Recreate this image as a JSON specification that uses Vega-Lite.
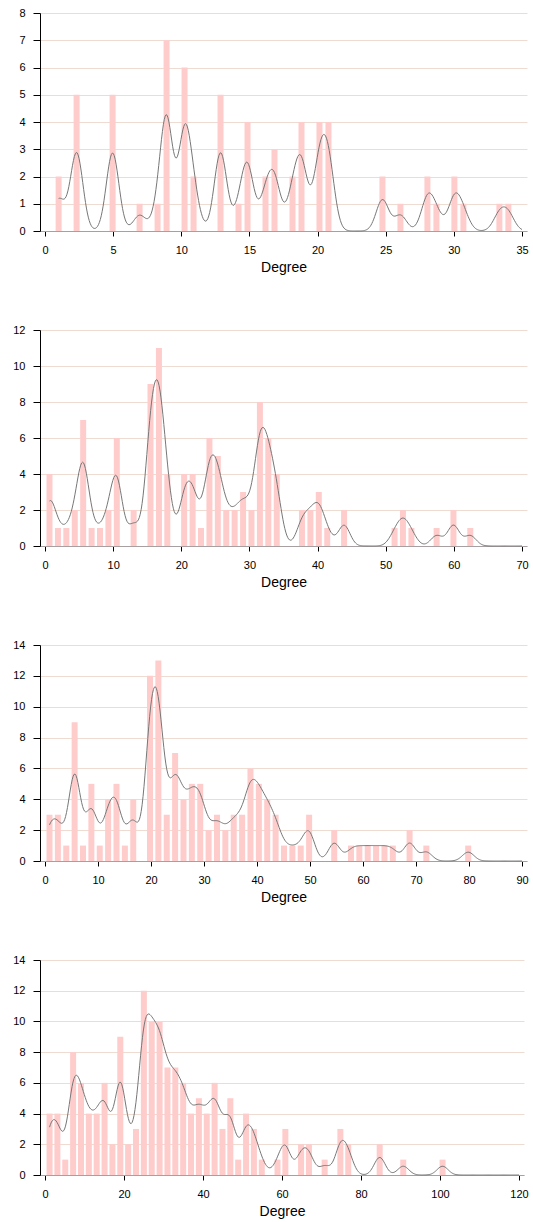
{
  "$schema": "https://vega.github.io/schema/vega-lite/v6.json",
  "background": "white",
  "padding": {"left": 12, "top": 7, "right": 0, "bottom": 5},
  "columns": 1,
  "align": "none",
  "spacing": 50,
  "config": {
    "font": "Liberation Sans",
    "view": {"stroke": null},
    "axis": {
      "labelFont": "Liberation Sans", "labelFontSize": 11, "labelColor": "#000",
      "titleFont": "Liberation Sans", "titleFontSize": 14, "titleFontWeight": "normal", "titleColor": "#000",
      "tickColor": "#000", "domainColor": "#000"
    },
    "axisX": {"grid": false, "domainColor": "#a8a0a0", "tickSize": 5, "labelPadding": 8, "titlePadding": 5, "labelFlush": false},
    "axisY": {"gridColor": "#eedcd2", "tickSize": 7, "labelPadding": 8, "domainColor": "#000", "minExtent": 0}
  },
  "datasets": {
    "d1": [
      {"degree":1},{"degree":1},
      {"degree":2.32},{"degree":2.32},{"degree":2.32},{"degree":2.32},{"degree":2.32},
      {"degree":4.96},{"degree":4.96},{"degree":4.96},{"degree":4.96},{"degree":4.96},
      {"degree":6.94},
      {"degree":8.26},
      {"degree":8.92},{"degree":8.92},{"degree":8.92},{"degree":8.92},{"degree":8.92},{"degree":8.92},{"degree":8.92},
      {"degree":10.24},{"degree":10.24},{"degree":10.24},{"degree":10.24},{"degree":10.24},{"degree":10.24},
      {"degree":10.9},{"degree":10.9},
      {"degree":12.88},{"degree":12.88},{"degree":12.88},{"degree":12.88},{"degree":12.88},
      {"degree":14.2},
      {"degree":14.86},{"degree":14.86},{"degree":14.86},{"degree":14.86},
      {"degree":16.18},{"degree":16.18},
      {"degree":16.84},{"degree":16.84},{"degree":16.84},
      {"degree":18.16},{"degree":18.16},
      {"degree":18.82},{"degree":18.82},{"degree":18.82},{"degree":18.82},
      {"degree":20.14},{"degree":20.14},{"degree":20.14},{"degree":20.14},
      {"degree":20.8},{"degree":20.8},{"degree":20.8},{"degree":20.8},
      {"degree":24.76},{"degree":24.76},
      {"degree":26.08},
      {"degree":28.06},{"degree":28.06},
      {"degree":28.72},
      {"degree":30.04},{"degree":30.04},
      {"degree":30.7},
      {"degree":33.34},
      {"degree":34}
    ],
    "d2": [
      {"degree":0.66},{"degree":0.66},{"degree":0.66},{"degree":0.66},
      {"degree":1.9},
      {"degree":3.13},
      {"degree":4.37},{"degree":4.37},
      {"degree":5.6},{"degree":5.6},{"degree":5.6},{"degree":5.6},{"degree":5.6},{"degree":5.6},{"degree":5.6},
      {"degree":6.84},
      {"degree":8.07},
      {"degree":9.31},{"degree":9.31},
      {"degree":10.54},{"degree":10.54},{"degree":10.54},{"degree":10.54},{"degree":10.54},{"degree":10.54},
      {"degree":13.01},{"degree":13.01},
      {"degree":15.48},{"degree":15.48},{"degree":15.48},{"degree":15.48},{"degree":15.48},{"degree":15.48},{"degree":15.48},{"degree":15.48},{"degree":15.48},
      {"degree":16.72},{"degree":16.72},{"degree":16.72},{"degree":16.72},{"degree":16.72},{"degree":16.72},{"degree":16.72},{"degree":16.72},{"degree":16.72},{"degree":16.72},{"degree":16.72},
      {"degree":17.95},{"degree":17.95},{"degree":17.95},{"degree":17.95},
      {"degree":20.42},{"degree":20.42},{"degree":20.42},{"degree":20.42},
      {"degree":21.66},{"degree":21.66},{"degree":21.66},{"degree":21.66},
      {"degree":22.89},
      {"degree":24.13},{"degree":24.13},{"degree":24.13},{"degree":24.13},{"degree":24.13},{"degree":24.13},
      {"degree":25.36},{"degree":25.36},{"degree":25.36},{"degree":25.36},{"degree":25.36},
      {"degree":26.6},{"degree":26.6},
      {"degree":27.83},{"degree":27.83},
      {"degree":29.07},{"degree":29.07},{"degree":29.07},
      {"degree":30.3},{"degree":30.3},
      {"degree":31.54},{"degree":31.54},{"degree":31.54},{"degree":31.54},{"degree":31.54},{"degree":31.54},{"degree":31.54},{"degree":31.54},
      {"degree":32.77},{"degree":32.77},{"degree":32.77},{"degree":32.77},{"degree":32.77},{"degree":32.77},
      {"degree":34.01},{"degree":34.01},{"degree":34.01},{"degree":34.01},
      {"degree":37.71},{"degree":37.71},
      {"degree":38.95},{"degree":38.95},
      {"degree":40.18},{"degree":40.18},{"degree":40.18},
      {"degree":41.42},
      {"degree":43.89},{"degree":43.89},
      {"degree":51.3},
      {"degree":52.53},{"degree":52.53},
      {"degree":53.77},
      {"degree":57.47},
      {"degree":59.94},{"degree":59.94},
      {"degree":62.41}
    ],
    "d3": [
      {"degree":0.85},{"degree":0.85},{"degree":0.85},
      {"degree":2.43},{"degree":2.43},{"degree":2.43},
      {"degree":4.01},
      {"degree":5.59},{"degree":5.59},{"degree":5.59},{"degree":5.59},{"degree":5.59},{"degree":5.59},{"degree":5.59},{"degree":5.59},{"degree":5.59},
      {"degree":7.17},
      {"degree":8.75},{"degree":8.75},{"degree":8.75},{"degree":8.75},{"degree":8.75},
      {"degree":10.33},
      {"degree":11.91},{"degree":11.91},{"degree":11.91},{"degree":11.91},
      {"degree":13.49},{"degree":13.49},{"degree":13.49},{"degree":13.49},{"degree":13.49},
      {"degree":15.07},
      {"degree":16.65},{"degree":16.65},{"degree":16.65},{"degree":16.65},
      {"degree":19.81},{"degree":19.81},{"degree":19.81},{"degree":19.81},{"degree":19.81},{"degree":19.81},{"degree":19.81},{"degree":19.81},{"degree":19.81},{"degree":19.81},{"degree":19.81},{"degree":19.81},
      {"degree":21.39},{"degree":21.39},{"degree":21.39},{"degree":21.39},{"degree":21.39},{"degree":21.39},{"degree":21.39},{"degree":21.39},{"degree":21.39},{"degree":21.39},{"degree":21.39},{"degree":21.39},{"degree":21.39},
      {"degree":22.97},{"degree":22.97},{"degree":22.97},
      {"degree":24.55},{"degree":24.55},{"degree":24.55},{"degree":24.55},{"degree":24.55},{"degree":24.55},{"degree":24.55},
      {"degree":26.13},{"degree":26.13},{"degree":26.13},{"degree":26.13},
      {"degree":27.71},{"degree":27.71},{"degree":27.71},{"degree":27.71},{"degree":27.71},
      {"degree":29.29},{"degree":29.29},{"degree":29.29},{"degree":29.29},{"degree":29.29},
      {"degree":30.87},{"degree":30.87},
      {"degree":32.45},{"degree":32.45},{"degree":32.45},
      {"degree":34.03},{"degree":34.03},
      {"degree":35.61},{"degree":35.61},{"degree":35.61},
      {"degree":37.19},{"degree":37.19},{"degree":37.19},
      {"degree":38.77},{"degree":38.77},{"degree":38.77},{"degree":38.77},{"degree":38.77},{"degree":38.77},
      {"degree":40.35},{"degree":40.35},{"degree":40.35},{"degree":40.35},{"degree":40.35},
      {"degree":41.93},{"degree":41.93},{"degree":41.93},{"degree":41.93},
      {"degree":43.51},{"degree":43.51},{"degree":43.51},
      {"degree":45.09},
      {"degree":46.67},
      {"degree":48.25},
      {"degree":49.83},{"degree":49.83},{"degree":49.83},
      {"degree":54.57},{"degree":54.57},
      {"degree":57.73},
      {"degree":59.31},
      {"degree":60.89},
      {"degree":62.47},
      {"degree":64.05},
      {"degree":65.63},
      {"degree":68.79},{"degree":68.79},
      {"degree":71.95},
      {"degree":79.85}
    ],
    "d4": [
      {"degree":1.15},{"degree":1.15},{"degree":1.15},{"degree":1.15},
      {"degree":3.14},{"degree":3.14},{"degree":3.14},{"degree":3.14},
      {"degree":5.13},
      {"degree":7.12},{"degree":7.12},{"degree":7.12},{"degree":7.12},{"degree":7.12},{"degree":7.12},{"degree":7.12},{"degree":7.12},
      {"degree":9.11},{"degree":9.11},{"degree":9.11},{"degree":9.11},{"degree":9.11},{"degree":9.11},
      {"degree":11.1},{"degree":11.1},{"degree":11.1},{"degree":11.1},
      {"degree":13.09},{"degree":13.09},{"degree":13.09},{"degree":13.09},
      {"degree":15.08},{"degree":15.08},{"degree":15.08},{"degree":15.08},{"degree":15.08},{"degree":15.08},
      {"degree":17.07},{"degree":17.07},
      {"degree":19.06},{"degree":19.06},{"degree":19.06},{"degree":19.06},{"degree":19.06},{"degree":19.06},{"degree":19.06},{"degree":19.06},{"degree":19.06},
      {"degree":21.05},{"degree":21.05},
      {"degree":23.04},{"degree":23.04},{"degree":23.04},
      {"degree":25.03},{"degree":25.03},{"degree":25.03},{"degree":25.03},{"degree":25.03},{"degree":25.03},{"degree":25.03},{"degree":25.03},{"degree":25.03},{"degree":25.03},{"degree":25.03},{"degree":25.03},
      {"degree":27.02},{"degree":27.02},{"degree":27.02},{"degree":27.02},{"degree":27.02},{"degree":27.02},{"degree":27.02},{"degree":27.02},{"degree":27.02},{"degree":27.02},
      {"degree":29.01},{"degree":29.01},{"degree":29.01},{"degree":29.01},{"degree":29.01},{"degree":29.01},{"degree":29.01},{"degree":29.01},{"degree":29.01},{"degree":29.01},
      {"degree":31},{"degree":31},{"degree":31},{"degree":31},{"degree":31},{"degree":31},{"degree":31},
      {"degree":32.99},{"degree":32.99},{"degree":32.99},{"degree":32.99},{"degree":32.99},{"degree":32.99},{"degree":32.99},
      {"degree":34.98},{"degree":34.98},{"degree":34.98},{"degree":34.98},{"degree":34.98},{"degree":34.98},
      {"degree":36.97},{"degree":36.97},{"degree":36.97},{"degree":36.97},
      {"degree":38.96},{"degree":38.96},{"degree":38.96},{"degree":38.96},{"degree":38.96},
      {"degree":40.95},{"degree":40.95},{"degree":40.95},{"degree":40.95},
      {"degree":42.94},{"degree":42.94},{"degree":42.94},{"degree":42.94},{"degree":42.94},{"degree":42.94},
      {"degree":44.93},{"degree":44.93},{"degree":44.93},
      {"degree":46.92},{"degree":46.92},{"degree":46.92},{"degree":46.92},{"degree":46.92},
      {"degree":48.91},
      {"degree":50.9},{"degree":50.9},{"degree":50.9},{"degree":50.9},
      {"degree":52.89},{"degree":52.89},{"degree":52.89},
      {"degree":54.88},
      {"degree":58.86},
      {"degree":60.85},{"degree":60.85},{"degree":60.85},
      {"degree":64.83},{"degree":64.83},
      {"degree":66.82},{"degree":66.82},
      {"degree":70.8},
      {"degree":74.78},{"degree":74.78},{"degree":74.78},
      {"degree":76.77},{"degree":76.77},
      {"degree":84.73},{"degree":84.73},
      {"degree":90.7},
      {"degree":100.65}
    ]
  },
  "concat": [
    {
      "width": 487, "height": 218,
      "data": {"name": "d1"},
      "layer": [
        {
          "mark": {"type": "bar", "color": "#ffcccc", "size": 6},
          "encoding": {
            "x": {"field": "degree", "type": "quantitative", "scale": {"domain": [0, 35], "nice": false}, "axis": {"title": "Degree", "values": [0,5,10,15,20,25,30,35]}},
            "y": {"aggregate": "count", "type": "quantitative", "scale": {"domain": [0, 8], "nice": false}, "axis": {"title": null, "values": [0,1,2,3,4,5,6,7,8]}}
          }
        },
        {
          "transform": [{"density": "degree", "bandwidth": 0.46, "counts": true, "extent": [1, 35], "steps": 500}],
          "mark": {"type": "line", "color": "#777777", "strokeWidth": 1},
          "encoding": {
            "x": {"field": "value", "type": "quantitative", "axis": {"title": "Degree"}},
            "y": {"field": "density", "type": "quantitative", "scale": {"domain": [0, 12.12], "nice": false}, "axis": null}
          }
        }
      ],
      "resolve": {"scale": {"y": "independent"}}
    },
    {
      "width": 487, "height": 216,
      "data": {"name": "d2"},
      "layer": [
        {
          "mark": {"type": "bar", "color": "#ffcccc", "size": 6},
          "encoding": {
            "x": {"field": "degree", "type": "quantitative", "scale": {"domain": [0, 70], "nice": false}, "axis": {"title": "Degree", "values": [0,10,20,30,40,50,60,70]}},
            "y": {"aggregate": "count", "type": "quantitative", "scale": {"domain": [0, 12], "nice": false}, "axis": {"title": null, "values": [0,2,4,6,8,10,12]}}
          }
        },
        {
          "transform": [{"density": "degree", "bandwidth": 0.86, "counts": true, "extent": [0.66, 70], "steps": 500}],
          "mark": {"type": "line", "color": "#777777", "strokeWidth": 1},
          "encoding": {
            "x": {"field": "value", "type": "quantitative", "axis": {"title": "Degree"}},
            "y": {"field": "density", "type": "quantitative", "scale": {"domain": [0, 9.717], "nice": false}, "axis": null}
          }
        }
      ],
      "resolve": {"scale": {"y": "independent"}}
    },
    {
      "width": 487, "height": 216,
      "data": {"name": "d3"},
      "layer": [
        {
          "mark": {"type": "bar", "color": "#ffcccc", "size": 6},
          "encoding": {
            "x": {"field": "degree", "type": "quantitative", "scale": {"domain": [0, 90], "nice": false}, "axis": {"title": "Degree", "values": [0,10,20,30,40,50,60,70,80,90]}},
            "y": {"aggregate": "count", "type": "quantitative", "scale": {"domain": [0, 14], "nice": false}, "axis": {"title": null, "values": [0,2,4,6,8,10,12,14]}}
          }
        },
        {
          "transform": [{"density": "degree", "bandwidth": 1.1, "counts": true, "extent": [0.85, 90], "steps": 500}],
          "mark": {"type": "line", "color": "#777777", "strokeWidth": 1},
          "encoding": {
            "x": {"field": "value", "type": "quantitative", "axis": {"title": "Degree"}},
            "y": {"field": "density", "type": "quantitative", "scale": {"domain": [0, 8.861], "nice": false}, "axis": null}
          }
        }
      ],
      "resolve": {"scale": {"y": "independent"}}
    },
    {
      "width": 484, "height": 215,
      "data": {"name": "d4"},
      "layer": [
        {
          "mark": {"type": "bar", "color": "#ffcccc", "size": 6},
          "encoding": {
            "x": {"field": "degree", "type": "quantitative", "scale": {"domain": [0, 120], "nice": false}, "axis": {"title": "Degree", "values": [0,20,40,60,80,100,120]}},
            "y": {"aggregate": "count", "type": "quantitative", "scale": {"domain": [0, 14], "nice": false}, "axis": {"title": null, "values": [0,2,4,6,8,10,12,14]}}
          }
        },
        {
          "transform": [{"density": "degree", "bandwidth": 1.39, "counts": true, "extent": [1.15, 120], "steps": 500}],
          "mark": {"type": "line", "color": "#777777", "strokeWidth": 1},
          "encoding": {
            "x": {"field": "value", "type": "quantitative", "axis": {"title": "Degree"}},
            "y": {"field": "density", "type": "quantitative", "scale": {"domain": [0, 7.035], "nice": false}, "axis": null}
          }
        }
      ],
      "resolve": {"scale": {"y": "independent"}}
    }
  ]
}
